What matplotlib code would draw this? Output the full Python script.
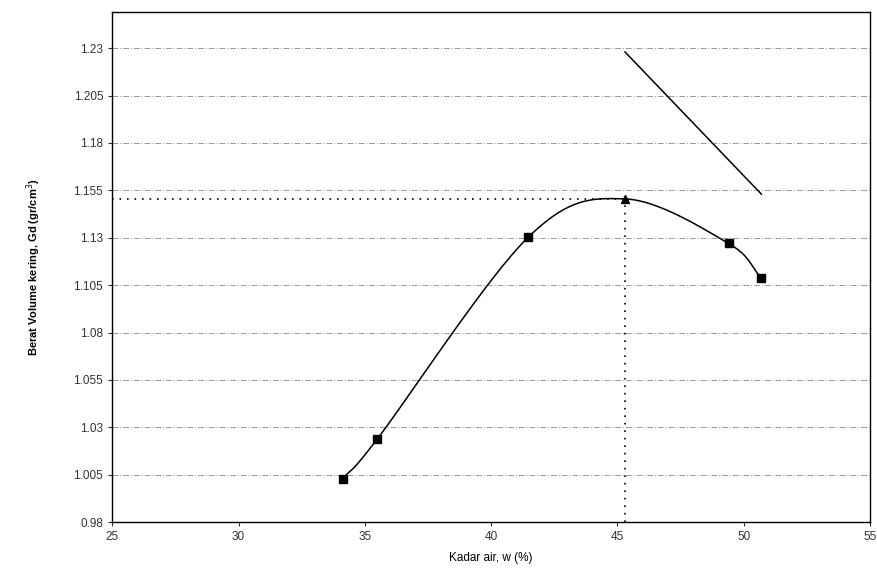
import numpy as np
import matplotlib
matplotlib.use("Agg")
import matplotlib.pyplot as plt

plt.rcParams['font.family'] = ['Liberation Sans', 'DejaVu Sans']

# data
kadar_air = [34.13, 35.5, 41.47, 49.4, 50.7]
berat_vol = [1.003, 1.024, 1.1303, 1.127, 1.1087]
w_opt = 45.3
gd_max = 1.1505
zav_w = [45.3, 50.7]
zav_gd = [1.228, 1.153]
y_ticks = [0.98, 1.005, 1.03, 1.055, 1.08, 1.105, 1.13, 1.155, 1.18, 1.205, 1.23]
y_labels = ["0.98", "1.005", "1.03", "1.055", "1.08", "1.105", "1.13", "1.155", "1.18", "1.205", "1.23"]
x_ticks = [25, 30, 35, 40, 45, 50, 55]

# smooth curve (catmull-rom) through points incl. the peak
cx = np.array([34.13, 35.5, 41.47, w_opt, 49.4, 50.7])
cy = np.array([1.003, 1.024, 1.1303, gd_max, 1.127, 1.1087])
P = np.column_stack([cx, cy])
P = np.vstack([2 * P[0] - P[1], P, 2 * P[-1] - P[-2]])
sx, sy = [], []
for i in range(1, len(P) - 2):
    p0, p1, p2, p3 = P[i - 1], P[i], P[i + 1], P[i + 2]
    t = np.linspace(0, 1, 40)[:, None]
    seg = 0.5 * ((2 * p1) + (-p0 + p2) * t + (2 * p0 - 5 * p1 + 4 * p2 - p3) * t ** 2
                 + (-p0 + 3 * p1 - 3 * p2 + p3) * t ** 3)
    sx.extend(seg[:, 0]); sy.extend(seg[:, 1])

fig = plt.figure(figsize=(8.77, 5.77), dpi=100)
ax = fig.add_axes([0.128, 0.095, 0.864, 0.884])

for yt in y_ticks[1:]:
    ax.axhline(yt, color='#999999', lw=0.7, ls=(0, (6, 2, 1, 2)), zorder=1)

ax.plot(sx, sy, color='black', lw=1.1, zorder=3)
ax.plot(kadar_air, berat_vol, ls='none', marker='s', ms=5.5, color='black', zorder=4)
ax.plot([w_opt], [gd_max], ls='none', marker='^', ms=5.5, color='black', zorder=4)
ax.plot(zav_w, zav_gd, color='black', lw=1.1, zorder=3)

ax.plot([25, w_opt], [gd_max, gd_max], color='black', lw=1.2, ls=(0, (1, 3.5)), zorder=2)
ax.plot([w_opt, w_opt], [0.98, gd_max], color='black', lw=1.2, ls=(0, (1, 3.5)), zorder=2)

ax.set_xlim(25, 55)
ax.set_ylim(0.98, 1.249)
ax.set_xticks(x_ticks)
ax.set_yticks(y_ticks)
ax.set_yticklabels(y_labels)
ax.tick_params(labelsize=8.5, colors='#333333', length=3)
for s in ax.spines.values():
    s.set_linewidth(1.0)

ax.set_xlabel("Kadar air, w (%)", fontsize=8.5, labelpad=6)
ax.set_ylabel("Berat Volume kering, Gd (gr/cm$^3$)", fontsize=8, fontweight='bold', labelpad=22)

fig.savefig("out.png", dpi=100)
